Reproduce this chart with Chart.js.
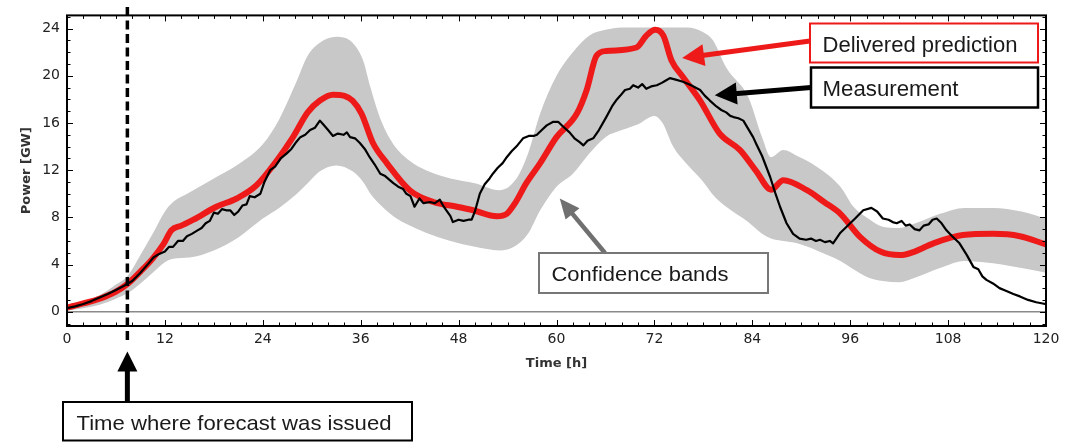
<!DOCTYPE html>
<html><head><meta charset="utf-8">
<script src="https://cdn.jsdelivr.net/npm/chart.js@4.4.1/dist/chart.umd.min.js"></script>
<style>html,body{margin:0;padding:0;background:#fff;}#wrap{width:1075px;height:442px;}</style>
</head><body><div id="wrap"><canvas id="c" width="1075" height="442"></canvas></div>
<script>
// ---------- data ----------
const xTicks = [0,12,24,36,48,60,72,84,96,108,120];
const yTicks = [0,4,8,12,16,20,24];
const forecastTime = 7.4;

const predTimes = [0,2,4,6,7.5,9,10.5,11.8,12.8,14,15.5,18.3,20.8,23.2,25.7,27.7,29.5,31,32.6,34,35,36.1,37.5,39.2,42,44.9,47.8,49.8,52.7,53.9,55,56.3,58,60,62.5,63.7,64.9,66.1,69.8,71,72.1,73.1,74.1,75.5,77.6,80,82.5,84.5,86.3,87.8,90.7,92.8,94.8,97.2,99.7,102.1,103.9,106.2,109.8,113.5,116.8,120];
const predValues = [0.35,0.7,1.1,1.7,2.4,3.4,4.5,5.7,6.9,7.3,7.8,8.9,9.6,10.7,12.8,14.8,16.9,17.9,18.4,18.3,17.9,16.8,14.3,12.6,10.3,9.3,8.9,8.6,8.1,8.3,9.3,10.9,12.6,14.8,16.8,18.8,21.7,22.1,22.4,23.4,23.9,23.4,21.3,19.9,17.9,15.1,13.7,11.9,10.35,11.15,10.3,9.3,8.3,6.35,5.1,4.8,5.1,5.8,6.5,6.6,6.4,5.7];

const measTimes = [0,1,2,3,4,5,6,7,8,9,10,10.6,11.3,12,12.5,13,13.6,14.2,14.7,15.3,16,16.5,17,17.5,18,18.5,19,19.5,20,20.5,21,21.5,22,22.4,23,23.7,24.2,24.9,25.5,26.2,26.9,27.5,28,28.6,29.2,29.8,30.4,31,31.5,32,32.6,33.2,33.9,34.3,34.7,35.3,35.9,36.5,37.1,37.7,38.4,39,39.5,40,40.6,41.2,41.6,42.1,42.6,43.2,43.7,44.5,45.1,45.7,46.1,46.5,47,47.3,48,48.6,49.2,49.6,50,50.6,51.2,51.8,52.2,52.8,53.4,53.9,54.5,55.2,55.9,56.6,57.2,57.6,58.2,58.8,59.6,60.2,60.8,61.6,62.2,62.8,63.3,63.8,64.5,65.2,66.1,66.8,67.4,67.8,68.4,69,69.4,70,70.5,71,71.6,72.3,72.9,73.4,73.9,74.5,75.5,76.5,77.6,78.2,78.8,79.6,80.2,80.8,81.3,81.7,82.3,82.9,83.5,84.1,84.5,85.2,86.2,86.8,87.4,88.2,89,89.8,90.6,91.2,91.8,92.3,92.9,93.5,93.9,94.8,95.4,96,96.6,97.6,98.6,99.3,100,100.7,101.2,101.7,102.3,102.8,103.3,103.9,104.5,105,105.6,106.1,106.6,107.2,107.8,108.5,109.4,110.3,111.1,111.7,112.2,112.7,113.5,114.3,115,116,116.8,117.8,118.8,119.6,120];
const measValues = [0.3,0.45,0.65,0.9,1.2,1.5,1.85,2.2,2.6,3.3,4.1,4.6,4.9,5.1,5.5,5.5,6.0,6.0,6.4,6.6,6.9,7.1,7.5,7.7,8.4,8.3,8.7,8.6,8.6,8.2,8.5,9.0,9.1,9.8,9.7,10.0,11.0,12.0,12.3,13.0,13.4,13.8,14.3,14.8,15.0,15.4,15.6,16.2,15.8,15.4,14.9,15.1,15.0,15.2,14.8,14.7,14.3,13.8,13.1,12.5,11.7,11.5,11.2,10.9,10.6,10.4,10.0,9.8,8.9,9.6,9.2,9.3,9.2,9.5,9.0,8.6,8.1,7.6,7.8,7.7,7.8,7.8,8.5,10.0,10.8,11.3,11.7,12.2,12.6,13.1,13.6,14.1,14.7,14.9,14.9,15.0,15.4,15.8,16.1,16.1,15.7,15.2,14.7,14.4,14.1,14.5,14.7,15.4,16.5,17.4,18.0,18.3,18.8,18.9,19.2,19.0,19.3,18.9,19.1,19.2,19.4,19.6,19.8,19.7,19.5,19.2,18.8,18.3,17.9,17.4,17.1,16.9,16.6,16.5,16.4,16.2,15.5,14.8,14.2,13.2,11.4,10.1,8.9,7.5,6.6,6.2,6.1,6.2,6.0,6.1,5.9,6.0,5.8,6.7,7.1,7.5,7.9,8.6,8.8,8.5,7.9,7.8,7.6,7.5,7.7,7.3,7.4,7.0,6.9,7.3,7.4,7.8,7.9,7.5,6.9,6.4,5.8,4.8,3.8,3.6,3.0,2.7,2.4,2.0,1.8,1.5,1.3,1.0,0.8,0.7,0.65];

const bandTimes = [0,2,4,6,7.5,9,10.5,12,13,15,18,21,24,26,28,29.5,31,33,35,36.3,37.2,38.5,40,42,44,47,50,53,55,56.5,58,60,62,64,66,68,70,72,73,74.3,76,78,79.2,80.8,83.5,85.2,86.3,87.8,89.5,91.9,94.8,96.4,98.2,100,102,104,107,110,113.5,117,120];
const bandUpper = [0.6,0.9,1.4,2.3,3.1,4.8,6.6,8.5,9.3,10.1,11.3,12.5,14.2,16.3,19.3,21.7,22.8,23.3,22.8,21.3,19.0,16.2,14.2,12.8,12.0,11.3,10.9,10.3,11.2,13.4,16.8,20.0,22.0,23.4,23.9,24.1,24.1,24.1,24.1,24.1,24.1,23.7,23.0,20.7,18.2,14.8,13.1,13.7,13.2,12.3,10.6,8.9,7.9,7.2,7.1,7.5,8.3,8.8,8.8,8.5,7.9];
const bandLower = [0.1,0.3,0.6,1.1,1.6,2.4,3.3,4.2,4.5,4.6,5.2,6.3,7.9,8.8,9.9,10.9,11.9,12.4,11.9,11.0,10.0,9.0,8.1,7.3,6.7,6.0,5.5,5.2,5.6,6.6,8.6,10.6,11.7,13.4,14.8,15.4,15.9,16.6,16.0,14.0,12.5,11.0,9.9,8.9,7.6,6.6,6.2,6.0,5.8,5.2,4.3,3.6,2.9,2.6,2.5,2.9,3.7,4.3,4.1,3.7,3.3];

// ---------- layout / style ----------
const X_MIN = 0, X_MAX = 120, Y_MIN = -1.21, Y_MAX = 25.12;
const xMinorStep = 2, yMinorStep = 1;
const RED = '#ee1a1a', GRAY_BAND = '#c8c8c8';
const TXT_FONT = '"Liberation Sans", Arial, sans-serif';
const AX_FONT = '"DejaVu Sans", sans-serif';

const notes = [
  {text:'Delivered prediction', box:[810,23.5,1038,62.5], stroke:RED, lw:2, size:22, tx:822.5, ty:51.5, tw:195,
   arrow:{from:[810,41], tip:{x:75.4, y:21.5}, color:RED, w:5, hl:22, hw:11}},
  {text:'Measurement', box:[811,67.5,1038,107.5], stroke:'#000', lw:2.5, size:22, tx:822.5, ty:96, tw:136,
   arrow:{from:[811,87.5], tip:{x:79.4, y:18.35}, color:'#000', w:5, hl:22, hw:11}},
  {text:'Confidence bands', box:[539,253,768,293], stroke:'#777', lw:2, size:20.5, tx:551.5, ty:280.5, tw:177,
   arrow:{from:[605,253], tip:{x:60.4, y:9.6}, color:'#707070', w:4.5, hl:20, hw:9}},
  {text:'Time where forecast was issued', box:[63,402,412,440.5], stroke:'#000', lw:2, size:21, tx:76.5, ty:429.5, tw:315,
   arrow:{from:[null,402], tip:{x:forecastTime, py:351.5}, color:'#000', w:5, hl:20, hw:10}}
];

const pts = (ts, vs) => ts.map((t, i) => ({x: t, y: vs[i]}));

function drawArrow(ctx, x1, y1, x2, y2, a) {
  const dx = x2 - x1, dy = y2 - y1, L = Math.hypot(dx, dy);
  const ux = dx / L, uy = dy / L;
  const bx = x2 - ux * a.hl, by = y2 - uy * a.hl;
  ctx.strokeStyle = a.color; ctx.fillStyle = a.color; ctx.lineWidth = a.w; ctx.lineCap = 'butt';
  ctx.beginPath(); ctx.moveTo(x1, y1); ctx.lineTo(bx + ux * 2, by + uy * 2); ctx.stroke();
  ctx.beginPath(); ctx.moveTo(x2, y2);
  ctx.lineTo(bx - uy * a.hw, by + ux * a.hw);
  ctx.lineTo(bx + uy * a.hw, by - ux * a.hw);
  ctx.closePath(); ctx.fill();
}

const decor = {
  id: 'decor',
  afterDatasetsDraw(chart) {
    const {ctx, chartArea: a, scales: {x, y}} = chart;
    ctx.save();
    ctx.strokeStyle = '#000'; ctx.lineWidth = 1;
    const seg = (x1, y1, x2, y2) => { ctx.beginPath(); ctx.moveTo(x1, y1); ctx.lineTo(x2, y2); ctx.stroke(); };
    for (let t = X_MIN; t <= X_MAX + 1e-9; t += xMinorStep) {
      const L = xTicks.includes(t) ? 6 : 3.5;
      const px = Math.round(x.getPixelForValue(t)) + 0.5;
      seg(px, a.bottom, px, a.bottom - L);
      seg(px, a.top, px, a.top + L);
    }
    for (let v = Math.ceil(Y_MIN); v <= Y_MAX; v += yMinorStep) {
      const L = yTicks.includes(v) ? 6 : 3.5;
      const py = Math.round(y.getPixelForValue(v)) + 0.5;
      seg(a.left, py, a.left + L, py);
      seg(a.right, py, a.right - L, py);
    }
    ctx.lineWidth = 2;
    ctx.strokeRect(a.left, a.top, a.right - a.left, a.bottom - a.top);
    // forecast issue time
    const fx = x.getPixelForValue(forecastTime);
    ctx.setLineDash([9, 4.5]); ctx.lineWidth = 3.5;
    seg(fx, 7, fx, 341);
    ctx.restore();
  },
  afterDraw(chart) {
    const {ctx, scales: {x, y}} = chart;
    ctx.save();
    for (const n of notes) {
      const ar = n.arrow;
      const tx = x.getPixelForValue(ar.tip.x);
      const ty = ar.tip.py !== undefined ? ar.tip.py : y.getPixelForValue(ar.tip.y);
      const fx = ar.from[0] === null ? tx : ar.from[0];
      drawArrow(ctx, fx, ar.from[1], tx, ty, ar);
      const [x1, y1, x2, y2] = n.box;
      ctx.fillStyle = '#fff';
      ctx.fillRect(x1, y1, x2 - x1, y2 - y1);
      ctx.strokeStyle = n.stroke; ctx.lineWidth = n.lw;
      ctx.strokeRect(x1, y1, x2 - x1, y2 - y1);
      ctx.font = n.size + 'px ' + TXT_FONT;
      ctx.fillStyle = '#1a1a1a'; ctx.textBaseline = 'alphabetic'; ctx.textAlign = 'left';
      const m = ctx.measureText(n.text).width;
      ctx.save(); ctx.translate(n.tx, n.ty); ctx.scale(n.tw / m, 1);
      ctx.fillText(n.text, 0, 0); ctx.restore();
    }
    ctx.restore();
  }
};

new Chart(document.getElementById('c'), {
  type: 'line',
  data: {
    datasets: [
      {label: 'Measurement', data: pts(measTimes, measValues), borderColor: '#000', borderWidth: 2.2,
       pointRadius: 0, tension: 0, fill: false, borderJoinStyle: 'round'},
      {label: 'Delivered prediction', data: pts(predTimes, predValues), borderColor: RED, borderWidth: 6,
       pointRadius: 0, cubicInterpolationMode: 'monotone', fill: false, borderJoinStyle: 'round'},
      {label: 'Upper band', data: pts(bandTimes, bandUpper), borderColor: 'rgba(0,0,0,0)', borderWidth: 0,
       backgroundColor: GRAY_BAND, pointRadius: 0, cubicInterpolationMode: 'monotone', fill: '+1'},
      {label: 'Lower band', data: pts(bandTimes, bandLower), borderColor: 'rgba(0,0,0,0)', borderWidth: 0,
       pointRadius: 0, cubicInterpolationMode: 'monotone', fill: false}
    ]
  },
  options: {
    responsive: false, animation: false, devicePixelRatio: 1,
    layout: {padding: {left: 0, top: 15, right: 29, bottom: 0}},
    plugins: {legend: {display: false}, tooltip: {enabled: false}},
    scales: {
      x: {
        type: 'linear', min: X_MIN, max: X_MAX,
        afterBuildTicks: s => { s.ticks = xTicks.map(v => ({value: v})); },
        afterFit: s => { s.height = 116; },
        ticks: {font: {family: AX_FONT, size: 14}, color: '#222', padding: 5, maxRotation: 0, autoSkip: false,
                callback: v => String(v)},
        grid: {display: false, drawTicks: false, tickLength: 0},
        border: {display: false},
        title: {display: true, text: 'Time [h]', font: {family: AX_FONT, size: 13, weight: 'bold'}, color: '#333',
                padding: {top: 0, bottom: 71}}
      },
      y: {
        type: 'linear', min: Y_MIN, max: Y_MAX,
        afterBuildTicks: s => { s.ticks = yTicks.map(v => ({value: v})); },
        afterFit: s => { s.width = 67; },
        ticks: {font: {family: AX_FONT, size: 14}, color: '#222', padding: 7, autoSkip: false,
                callback: v => String(v)},
        grid: {color: c => (c.tick && c.tick.value === 0) ? '#8a8a8a' : 'rgba(0,0,0,0)', lineWidth: 1.5,
               drawTicks: false, tickLength: 0},
        border: {display: false},
        title: {display: true, text: 'Power [GW]', font: {family: AX_FONT, size: 13, weight: 'bold'}, color: '#333',
                padding: {top: 19, bottom: 0}}
      }
    }
  },
  plugins: [decor]
});
</script></body></html>
